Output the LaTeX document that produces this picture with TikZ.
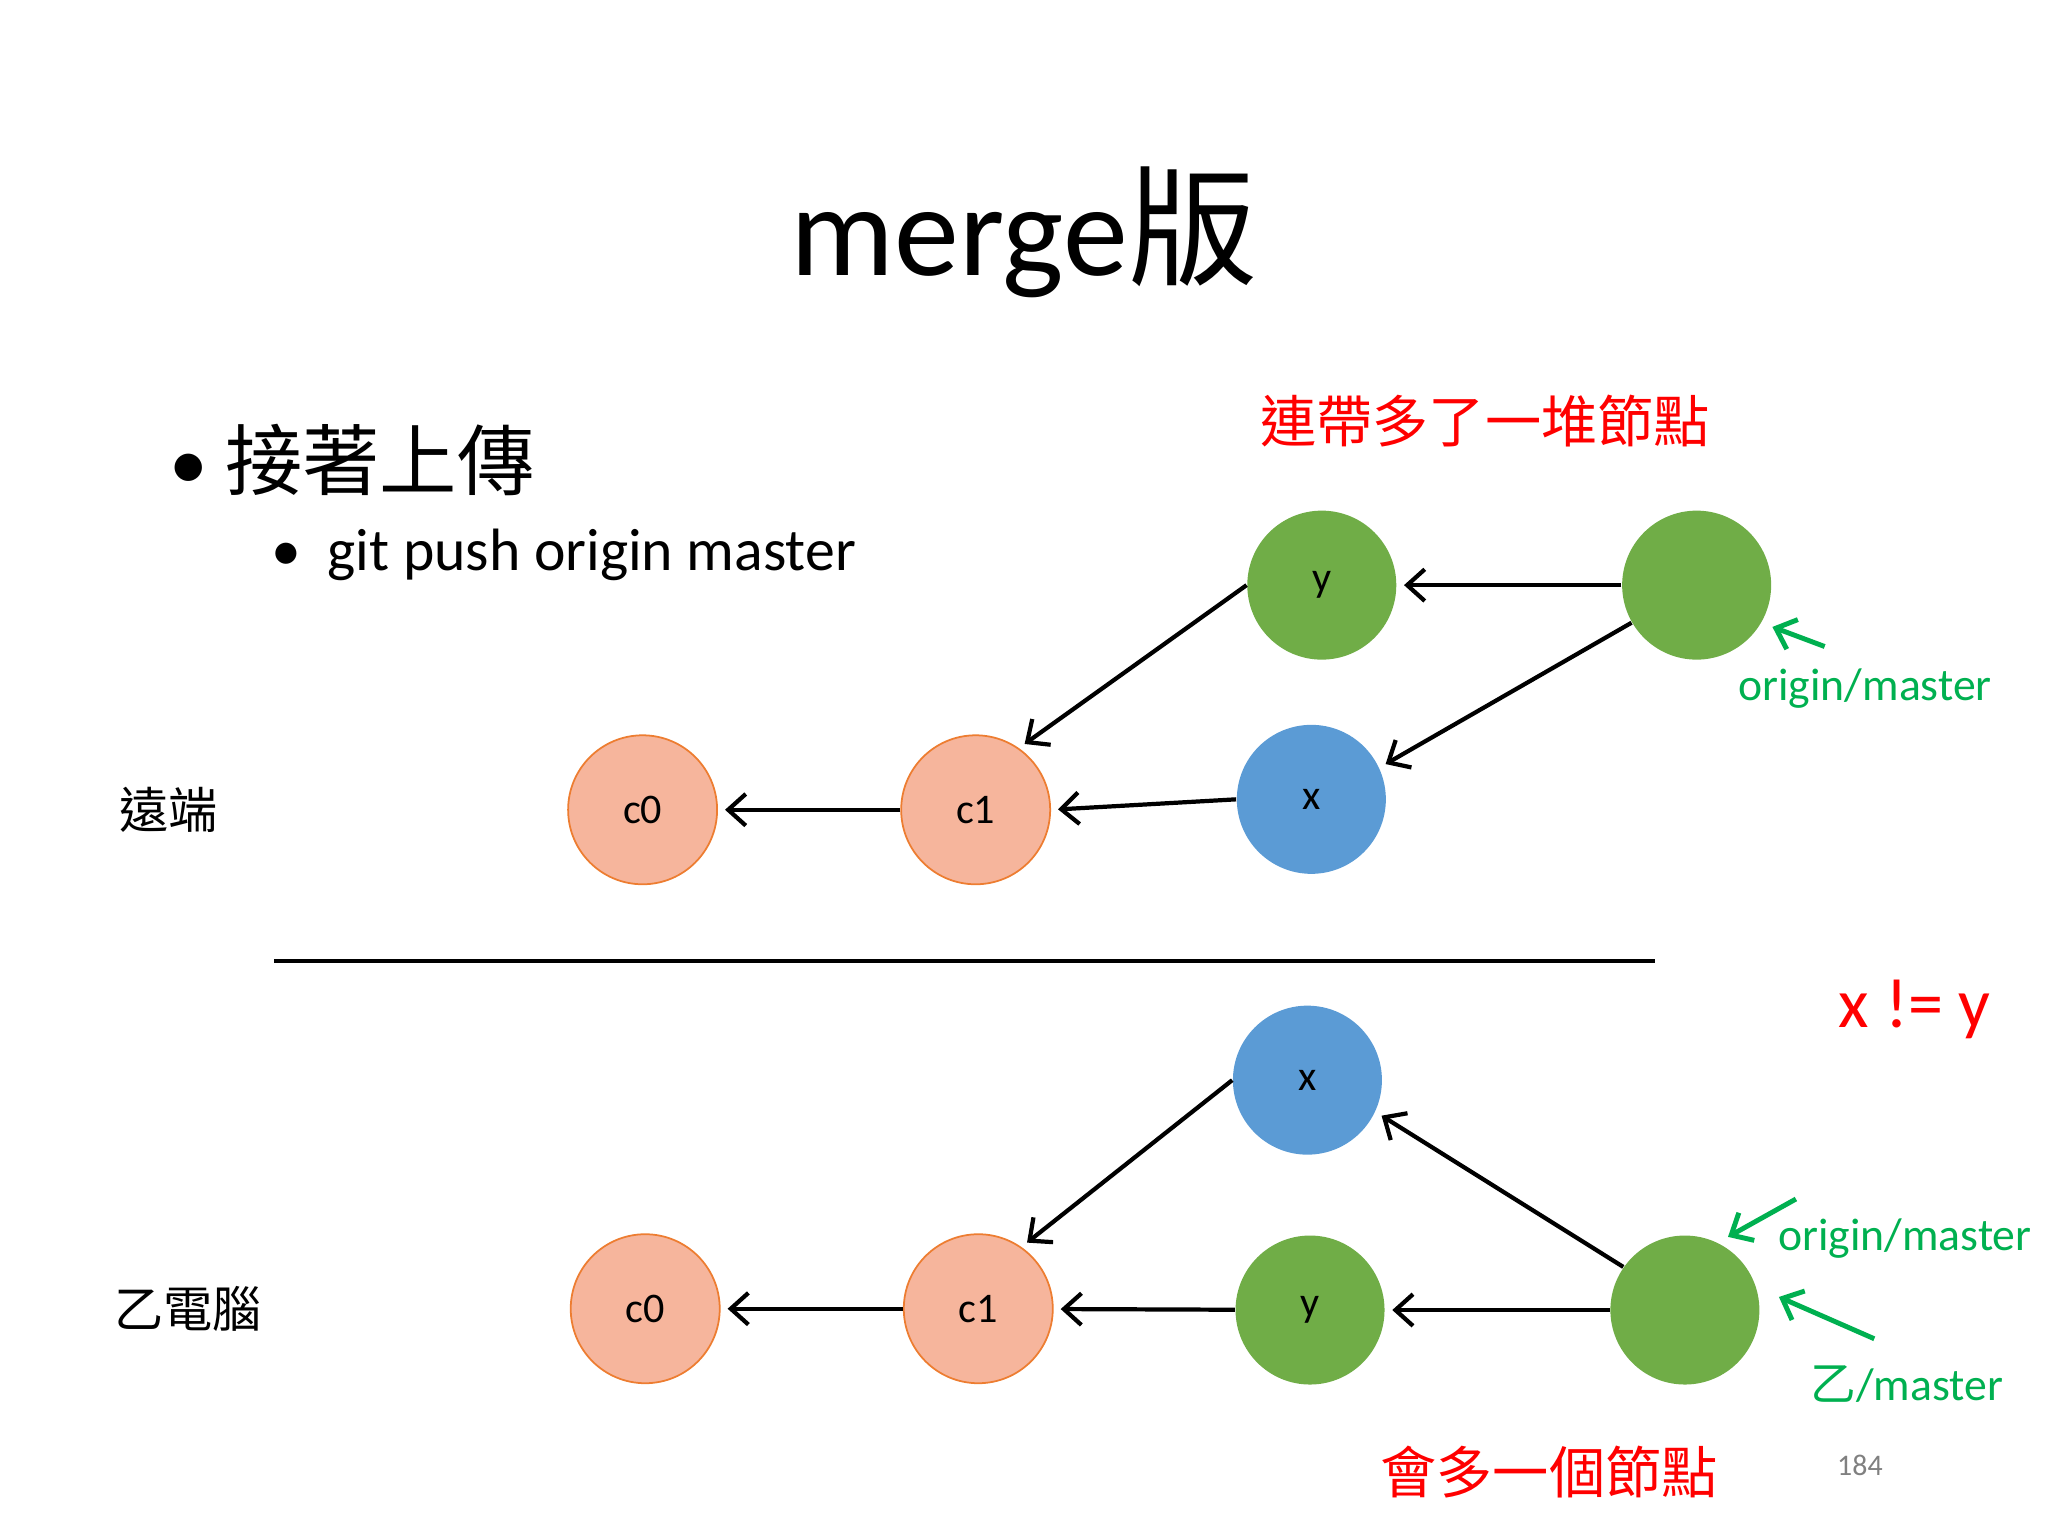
\documentclass[tikz,border=0pt]{standalone}
\usepackage{fontspec}
\setmainfont{Carlito}
\newfontfamily\cjk{Noto Sans CJK TC}
\usetikzlibrary{arrows.meta}
\definecolor{org}{HTML}{F6B59C}
\definecolor{orgb}{HTML}{ED7D31}
\definecolor{grn}{HTML}{70AD47}
\definecolor{blu}{HTML}{5B9BD5}
\definecolor{gtxt}{HTML}{00B050}
\begin{document}
\begin{tikzpicture}[x=0.01306cm,y=-0.01306cm,
  cbase/.style={circle,minimum size=1.49cm,inner sep=0,font=\fontsize{12}{14}\selectfont},
  co/.style={cbase,fill=org,draw=orgb,line width=0.5pt},
  cg/.style={cbase,fill=grn},
  cb/.style={cbase,fill=blu},
  ar/.style={line width=1.2pt,-{Straight Barb[length=5pt,width=9pt,line width=1.2pt]},shorten >=2pt},
  ga/.style={line width=1.4pt,draw=gtxt,-{Straight Barb[length=5pt,width=9pt,line width=1.4pt]}},
  red/.style={text=red,font=\cjk\fontsize{16}{18}\selectfont},
  grt/.style={text=gtxt,font=\fontsize{13}{15}\selectfont}]
\useasboundingbox (0,0) rectangle (1568,1176);
\node (title) at (784,178) {\fontsize{37}{40}\selectfont merge{\cjk 版}};
\node[anchor=west] (b1) at (120,352) {\fontsize{22}{24}\selectfont •\ {\cjk 接著上傳}};
\node[anchor=west] (b2) at (198,425) {\fontsize{17}{20}\selectfont •\ \ git push origin master};
\node (l1) at (129,620) {\cjk\fontsize{14}{16}\selectfont 遠端};
\node (l2) at (144,1002) {\cjk\fontsize{14}{16}\selectfont 乙電腦};
% top
\node[co] (tc0) at (492,620) {c0};
\node[co] (tc1) at (747,620) {c1};
\node[cb] (tx) at (1004,612) {x};
\node[cg] (ty) at (1012,448) {y};
\node[cg] (tm) at (1299,448) {};
\draw[ar] (tm) -- (ty);
\draw[ar] (tm.210) -- (tx.25);
\draw[ar] (tx.west) -- (tc1.east);
\draw[ar] (ty.west) -- (tc1.55);
\draw[ar] (tc1) -- (tc0);
\coordinate (la) at (210,736);
\coordinate (lb) at (1267,736);
\draw[line width=1.2pt] (la) -- (lb);
% bottom
\node[co] (bc0) at (494,1002) {c0};
\node[co] (bc1) at (749,1002) {c1};
\node[cg] (by) at (1003,1003) {y};
\node[cb] (bx) at (1001,827) {x};
\node[cg] (bm) at (1290,1003) {};
\draw[ar] (bm) -- (by);
\draw[ar] (bm.145) -- (bx.-25);
\draw[ar] (by) -- (bc1);
\draw[ar] (bx.west) -- (bc1.55);
\draw[ar] (bc1) -- (bc0);
% labels
\coordinate (g1) at (1397,495);
\draw[ga] (g1) -- (1357,480);
\node[grt] (om1) at (1428,527) {origin/master};
\coordinate (g2) at (1375,918);
\draw[ga] (g2) -- (1323,947);
\node[grt,anchor=west] (om2) at (1352,948) {origin/master};
\coordinate (g3) at (1435,1025);
\draw[ga] (g3) -- (1362,993);
\node[grt] (om3) at (1460,1060) {{\cjk 乙}/master};
\node[red] (r1) at (1137,322) {連帶多了一堆節點};
\node[text=red,font=\fontsize{20}{22}\selectfont] (r2) at (1466,773) {x != y};
\node[red] (r3) at (1186,1127) {會多一個節點};
\node[text=gray,font=\fontsize{8.5}{10}\selectfont] (pg) at (1424,1122) {184};
\end{tikzpicture}
\end{document}
